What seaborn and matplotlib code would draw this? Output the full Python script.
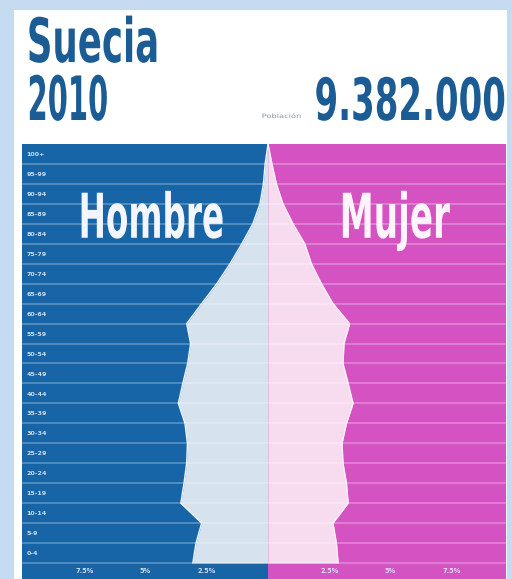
import matplotlib
matplotlib.use("Agg")
import matplotlib.pyplot as plt
import seaborn as sns
import numpy as np
import pandas as pd
from matplotlib.patheffects import AbstractPathEffect
from matplotlib.transforms import Affine2D
from matplotlib.patches import Rectangle

# ---------------- data ----------------
age_groups = ["0-4", "5-9", "10-14", "15-19", "20-24", "25-29", "30-34", "35-39",
              "40-44", "45-49", "50-54", "55-59", "60-64", "65-69", "70-74",
              "75-79", "80-84", "85-89", "90-94", "95-99", "100+"]
male_pct = [3.07, 2.94, 2.71, 3.56, 3.43, 3.32, 3.29, 3.39, 3.66, 3.48, 3.28,
            3.16, 3.32, 2.71, 2.09, 1.55, 1.07, 0.62, 0.33, 0.19, 0.12]
female_pct = [2.86, 2.79, 2.65, 3.27, 3.20, 3.06, 3.02, 3.20, 3.47, 3.27, 3.06,
              3.10, 3.33, 2.65, 2.18, 1.77, 1.50, 1.02, 0.61, 0.34, 0.16]
tick_values = [-7.5, -5, -2.5, 2.5, 5, 7.5]
tick_labels = ["7.5%", "5%", "2.5%", "2.5%", "5%", "7.5%"]
country = "Suecia"
year = "2010"
population = "9.382.000"
pop_label = "Población"

# ---------------- colours ----------------
FRAME = "#c7dbf0"
BLUE = "#1764a6"
MAGENTA = "#d452c1"
MALE_FILL = "#d6e3ee"
FEMALE_FILL = "#f7dcf0"
TITLE = "#1c5c94"

W, H = 512, 579


class Squeeze(AbstractPathEffect):
    """Draw text glyphs squeezed horizontally to a target pixel width."""
    def __init__(self, width_px, anchor="left"):
        super().__init__()
        self.width_px = width_px
        self.anchor = anchor

    def draw_path(self, renderer, gc, tpath, affine, rgbFace=None):
        bb = tpath.get_extents(affine)
        if bb.width <= 0:
            renderer.draw_path(gc, tpath, affine, rgbFace)
            return
        sx = self.width_px / bb.width
        x0 = bb.x0 if self.anchor == "left" else bb.x1
        new = affine + Affine2D().translate(-x0, 0).scale(sx, 1).translate(x0, 0)
        renderer.draw_path(gc, tpath, new, rgbFace)


sns.set_theme(style="white")
plt.rcParams["font.family"] = ["DejaVu Sans"]

fig = plt.figure(figsize=(W / 100, H / 100), dpi=100, facecolor=FRAME)
fig.patches.append(Rectangle((14 / W, 0), (507 - 14) / W, (H - 10) / H,
                             transform=fig.transFigure, facecolor="white",
                             edgecolor="none", zorder=-5))

ax = fig.add_axes([22 / W, 0, (506 - 22) / W, (H - 144) / H])
ax.set_zorder(1)

ax.axvspan(-10.04, 0, color=BLUE, zorder=0, lw=0)
ax.axvspan(0, 9.71, color=MAGENTA, zorder=0, lw=0)

# polygon vertices at the lower boundary line of each age row, tapering to top
pos = list(range(len(age_groups))) + [len(age_groups)]
m = [-v for v in male_pct] + [0.0]
f = list(female_pct) + [0.0]
df = pd.DataFrame({"pos": pos, "male": m, "female": f})

ax.fill_betweenx(df["pos"], df["male"], 0, color=MALE_FILL, lw=0, zorder=1)
ax.fill_betweenx(df["pos"], 0, df["female"], color=FEMALE_FILL, lw=0, zorder=1)
sns.lineplot(data=df, x="male", y="pos", orient="y", sort=False, estimator=None,
             color="#eef6ff", lw=1.0, ax=ax, zorder=2)
sns.lineplot(data=df, x="female", y="pos", orient="y", sort=False, estimator=None,
             color="#fdeefa", lw=1.0, ax=ax, zorder=2)
ax.set_xlim(-10.04, 9.71)
ax.set_ylim(-0.8, 21)
ax.axis("off")

# row separators
for yy in range(len(age_groups)):
    ax.axhline(yy, color="white", alpha=0.32, lw=1.1, zorder=3)

# age labels
for i, lab in enumerate(age_groups):
    ax.text(-9.86, i + 0.47, lab, color="#dce8f6", fontsize=4.6, ha="left",
            va="center", zorder=4, alpha=0.9, fontweight="bold")

# x tick labels
for v, lab in zip(tick_values, tick_labels):
    ax.text(v, -0.42, lab, color="#e3ebff", fontsize=4.8, ha="center",
            va="center", zorder=4, alpha=0.9, fontweight="bold")

# Hombre / Mujer
ax.text(-7.84, 16.3, "Hombre", color="#f3f6ff", fontsize=44.5,
        fontweight="bold", ha="left", va="baseline",
        path_effects=[Squeeze(141, "left")], zorder=5)
ax.text(2.82, 16.3, "Mujer", color="#fff3fc", fontsize=44.5,
        fontweight="bold", ha="left", va="baseline",
        path_effects=[Squeeze(107, "left")], zorder=5)

# Titles
fig.text(25 / W, 1 - 62 / H, country, color=TITLE, fontsize=44,
         fontweight="bold", ha="left", va="baseline",
         path_effects=[Squeeze(127, "left")])
fig.text(25 / W, 1 - 120 / H, year, color=TITLE, fontsize=44,
         fontweight="bold", ha="left", va="baseline",
         path_effects=[Squeeze(77, "left")])
fig.text(507 / W, 1 - 120 / H, population, color=TITLE, fontsize=42,
         fontweight="bold", ha="right", va="baseline",
         path_effects=[Squeeze(188, "right")])
fig.text(262 / W, 1 - 118 / H, pop_label, color="#8796ad", fontsize=4.3,
         ha="left", va="baseline", path_effects=[Squeeze(38, "left")])

fig.savefig("out.png", dpi=100, facecolor=FRAME)
